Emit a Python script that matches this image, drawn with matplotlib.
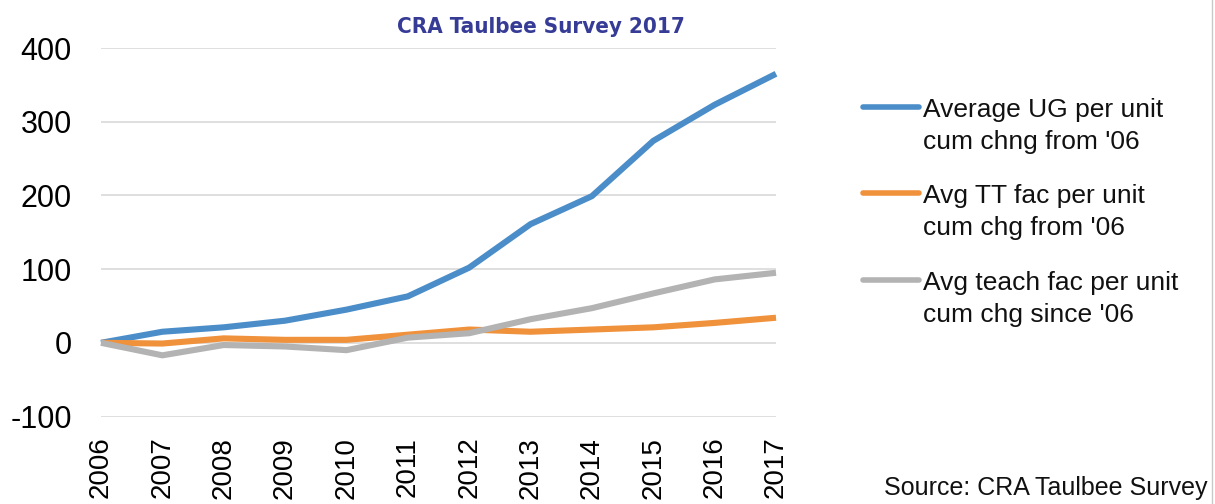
import matplotlib.pyplot as plt
from matplotlib.lines import Line2D

# data
years = list(range(2006, 2018))
ug_chg = [0, 15, 21, 30, 45, 63, 102, 161, 199, 274, 323, 365]
tt_fac_chg = [0, -1, 6, 4, 4, 11, 18, 15, 18, 21, 27, 34]
teach_fac_chg = [0, -17, -3, -5, -10, 7, 13, 32, 47, 67, 86, 95]

labels = ["Average UG per unit\ncum chng from '06",
          "Avg TT fac per unit\ncum chg from '06",
          "Avg teach fac per unit\ncum chg since '06"]
colors = ["#4a8dc9", "#f0913c", "#b3b3b3"]

W, H = 1215, 504
plt.rcParams['font.family'] = ['Liberation Sans', 'DejaVu Sans']
plt.rcParams['axes.unicode_minus'] = False

fig = plt.figure(figsize=(W / 100, H / 100), dpi=100)
ax = fig.add_axes([101 / W, 87.5 / H, 675 / W, 368.5 / H])

series = [ug_chg, tt_fac_chg, teach_fac_chg]
lines = []
for vals, c in zip(series, colors):
    ln, = ax.plot(years, vals, color=c, lw=4.4, solid_capstyle='butt',
                  solid_joinstyle='round', clip_on=False, zorder=3)
    lines.append(ln)

ax.set_xlim(2006, 2017)
ax.set_ylim(-100, 400)
ax.set_yticks([-100, 0, 100, 200, 300, 400])
ax.set_xticks(years)
ax.set_xticklabels([str(y) for y in years], rotation=90, ha='center', va='top')
ax.tick_params(axis='y', length=0, pad=21, labelsize=22)
ax.tick_params(axis='x', length=0, pad=14.5, labelsize=20)
ax.grid(axis='y', color='#dcdcdc', lw=1.3)
ax.set_axisbelow(True)
for s in ax.spines.values():
    s.set_visible(False)

# title
fig.text(541 / W, 1 - 27 / H, "CRA Taulbee Survey 2017", ha='center', va='center',
         fontsize=16, fontweight='bold', fontstretch='condensed',
         family=['DejaVu Sans'], color='#363c96')

# legend, handle next to first line of each label
leg_y = [107, 193, 280]
for ln, lab, y in zip(lines, labels, leg_y):
    fig.add_artist(Line2D([863 / W, 919 / W], [1 - y / H, 1 - y / H],
                          color=ln.get_color(), lw=4.0, solid_capstyle='round'))
    fig.text(923 / W, 1 - (y - 9) / H, lab, ha='left', va='top',
             fontsize=19, linespacing=1.42, color='#111111')

fig.text(1207 / W, 1 - 495 / H, "Source: CRA Taulbee Survey", ha='right',
         va='baseline', fontsize=18, color='#111111')

fig.add_artist(Line2D([1212 / W, 1212 / W], [0, 1], color='#c8c8c8', lw=1))

fig.savefig("out.png", dpi=100)
